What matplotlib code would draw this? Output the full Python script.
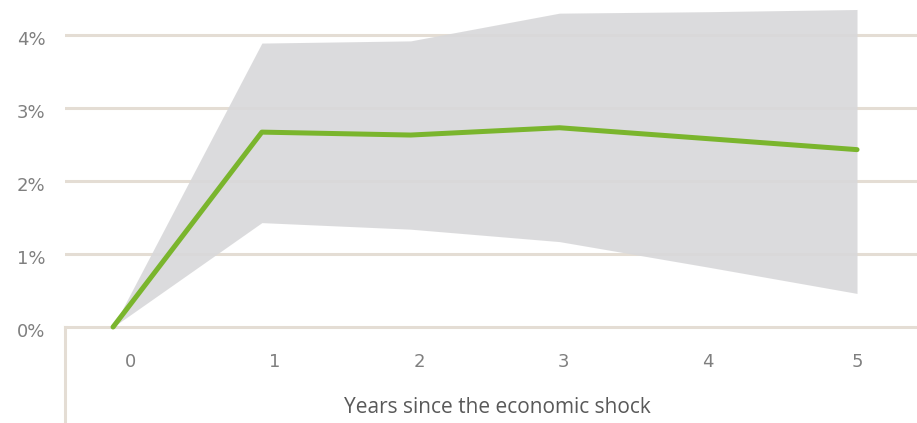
import numpy as np
import matplotlib
matplotlib.use('Agg')
import matplotlib.pyplot as plt
from matplotlib import transforms

# values (percent)
years = [0, 1, 2, 3, 4, 5]
central = [0.0, 2.67, 2.63, 2.73, 2.58, 2.43]
upper = [0.0, 3.89, 3.92, 4.30, 4.32, 4.35]
lower = [0.0, 1.43, 1.34, 1.17, 0.82, 0.46]
ytick_vals = [0, 1, 2, 3, 4]
ytick_labels = ['0%', '1%', '2%', '3%', '4%']
xlabel = 'Years since the economic shock'

grid_col = '#e4ddd4'
tick_col = '#7f7f7f'

fig = plt.figure(figsize=(9.17, 4.23), dpi=100)
ax = fig.add_axes([65 / 917, 0, 1 - 65 / 917, 1])

# band and central estimate
ax.fill_between(years, lower, upper, color=(216 / 255, 216 / 255, 218 / 255),
                alpha=0.9, linewidth=0, zorder=2)
ax.plot(years, central, color='#7ab52d', linewidth=3.6, solid_capstyle='round',
        zorder=3)

ax.set_xlim(-0.323, 5.403)
ax.set_ylim(-1.315, 4.48)

# gridlines (1% .. 4%) and baseline at 0
for v in ytick_vals[1:]:
    ax.axhline(v, color=grid_col, linewidth=2.2, zorder=1)

ax.spines['top'].set_visible(False)
ax.spines['right'].set_visible(False)
ax.spines['bottom'].set_position(('data', 0))
ax.spines['bottom'].set_color(grid_col)
ax.spines['bottom'].set_linewidth(2.2)
ax.spines['left'].set_bounds(-1.315, 0)
ax.spines['left'].set_color(grid_col)
ax.spines['left'].set_linewidth(2.2)

ax.set_yticks(ytick_vals)
ax.set_yticklabels(ytick_labels)
# the category labels sit a little right of the points in the original
xtick_pos = [0.114, 1.089, 2.056, 3.024, 4.0, 5.0]
ax.set_xticks(xtick_pos)
ax.set_xticklabels([str(y) for y in years])
ax.tick_params(axis='y', length=0, pad=14, labelsize=13, labelcolor=tick_col)
ax.tick_params(axis='x', length=0, pad=19, labelsize=13, labelcolor=tick_col)

shift = transforms.ScaledTranslation(0, -2.5 / 100, fig.dpi_scale_trans)
for lab in ax.get_yticklabels():
    lab.set_transform(lab.get_transform() + shift)

ax.set_xlabel(xlabel, fontsize=15, color='#595959', family='Open Sans')
ax.xaxis.set_label_coords(0.507, 0.012)
ax.xaxis.label.set_va('bottom')

ax.patch.set_alpha(0)
fig.savefig('out.png', dpi=100)
